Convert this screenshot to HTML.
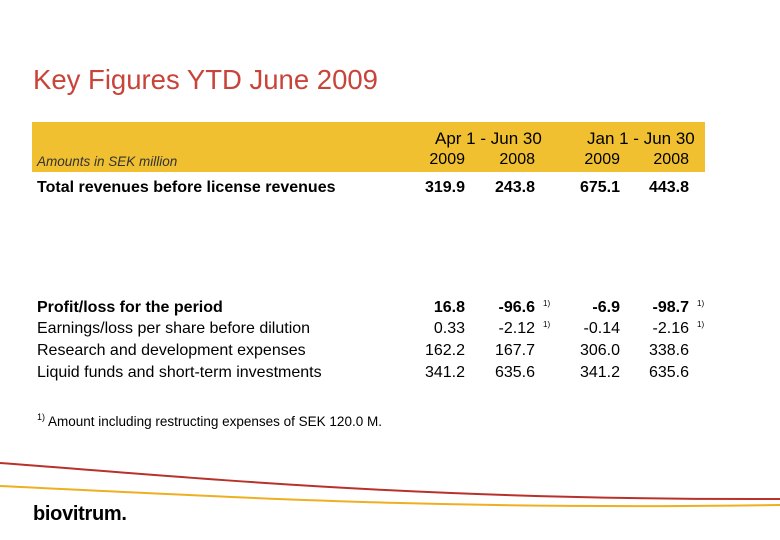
<!DOCTYPE html>
<html><head><meta charset="utf-8"><style>
body{margin:0;background:#fff;}
#s{position:relative;width:780px;height:540px;overflow:hidden;font-family:"Liberation Sans",sans-serif;color:#000;}
.t{position:absolute;white-space:nowrap;line-height:1;}
.r{text-align:right;}
.b{font-weight:bold;}
.fn{font-size:8px;position:absolute;}
</style></head><body>
<div id="s">
<div class="t" style="left:33px;top:66px;font-size:27.5px;color:#c8443a;">Key Figures YTD June 2009</div>
<div style="position:absolute;left:32px;top:122px;width:673px;height:50px;background:#f0c030;"></div>
<div class="t" style="left:37px;top:155px;font-size:13.5px;font-style:italic;color:#333;">Amounts in SEK million</div>
<div class="t" style="left:435px;top:130px;font-size:17px;">Apr 1 - Jun 30</div>
<div class="t" style="left:587px;top:130px;font-size:17px;">Jan 1 - Jun 30</div>
<div class="t r" style="left:400px;width:65px;top:152px;font-size:16px;">2009</div>
<div class="t r" style="left:470px;width:65px;top:152px;font-size:16px;">2008</div>
<div class="t r" style="left:555px;width:65px;top:152px;font-size:16px;">2009</div>
<div class="t r" style="left:624px;width:65px;top:152px;font-size:16px;">2008</div>
<div class="t" style="left:37px;top:413px;font-size:13.5px;"><span style="font-size:9px;vertical-align:6px;">1)</span> Amount including restructing expenses of SEK 120.0 M.</div>
<svg width="780" height="540" style="position:absolute;left:0;top:0;">
<path d="M0,463 C200,478 420,500 780,499" stroke="#b8312a" stroke-width="2" fill="none"/>
<path d="M0,486 C250,498 450,510 780,505" stroke="#eeb020" stroke-width="2" fill="none"/>
</svg>
<div class="t b" style="left:33px;top:504px;font-size:20px;letter-spacing:-0.3px;">biovitrum.</div>
</div>
<script>
const labels=["Total revenues before license revenues","Profit/loss for the period","Earnings/loss per share before dilution","Research and development expenses","Liquid funds and short-term investments"];
const q2009=["319.9","16.8","0.33","162.2","341.2"];
const q2008=["243.8","-96.6","-2.12","167.7","635.6"];
const h2009=["675.1","-6.9","-0.14","306.0","341.2"];
const h2008=["443.8","-98.7","-2.16","338.6","635.6"];
const bold=[true,true,false,false,false];
const notes=[false,true,true,false,false];
const tops=[180,300,321,343,365];
const s=document.getElementById('s');
const cols=[[q2009,400],[q2008,470],[h2009,555],[h2008,624]];
labels.forEach((l,i)=>{
  const d=document.createElement('div');
  d.className='t'+(bold[i]?' b':'');
  d.style.cssText=`left:37px;top:${tops[i]}px;font-size:16px;`;
  d.textContent=l;
  
  
  s.appendChild(d);
  cols.forEach(([arr,x],c)=>{
    const v=document.createElement('div');
    v.className='t r'+(bold[i]?' b':'');
    v.style.cssText=`left:${x}px;width:65px;top:${tops[i]}px;font-size:16px;`;
    v.textContent=arr[i];
    
    
    s.appendChild(v);
    if(notes[i]&&(c===1||c===3)){
      const f=document.createElement('div');
      f.className='fn';
      f.style.cssText=`left:${x+73}px;top:${tops[i]-1}px;`;
      f.textContent='1)';
      
      
      s.appendChild(f);
    }
  });
});
</script>
</body></html>
